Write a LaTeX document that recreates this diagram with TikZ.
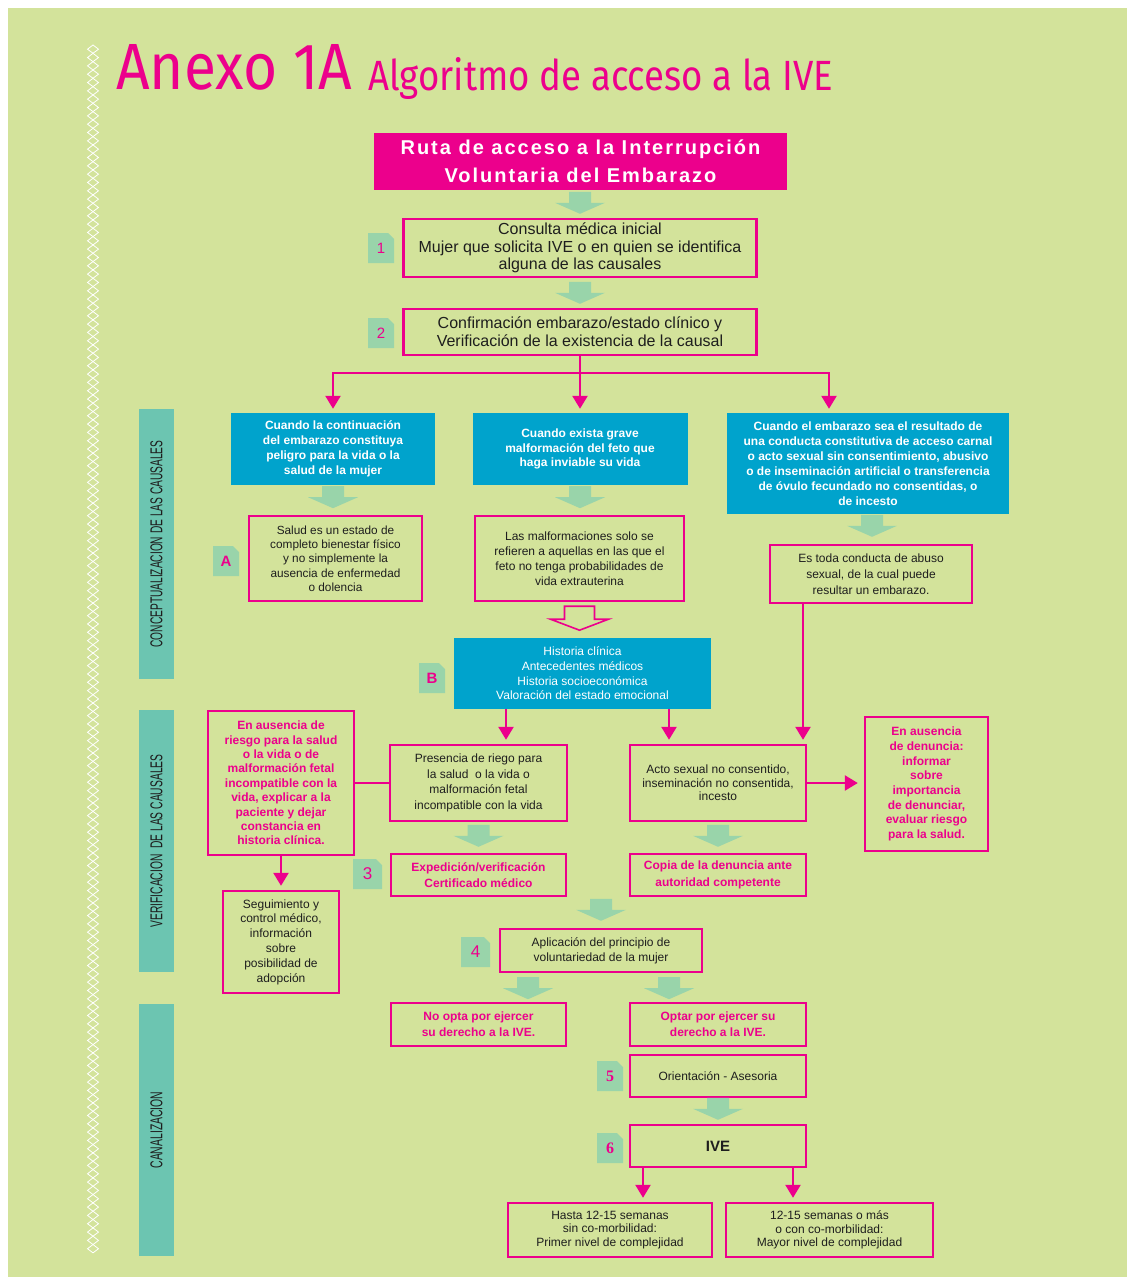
\documentclass[tikz,border=0pt]{standalone}
\usepackage{fontspec}
\setmainfont{Liberation Sans}
\newfontfamily\titlefont{Fira Sans}
\newfontfamily\hdrfont[LetterSpace=10]{Liberation Sans}
\newfontfamily\numserif{Liberation Serif}
\usetikzlibrary{arrows.meta,calc}

\definecolor{bgg}{HTML}{D3E39B}
\definecolor{pnk}{HTML}{EC008C}
\definecolor{tealbar}{HTML}{6CC5B1}
\definecolor{cyanbox}{HTML}{00A3CC}
\definecolor{mint}{HTML}{99D4AA}
\definecolor{ink}{HTML}{1E1E1E}

\newcommand\fsz[2]{\fontsize{#1}{#2}\selectfont}
% numbered badge with a folded top-right corner: name, left, top, width, label
\newcommand\stepbadge[5]{%
  \fill[mint] (#2,#3) -- ({#2+#4-6},#3) -- ({#2+#4},{#3+6}) -- ({#2+#4},{#3+30}) -- (#2,{#3+30}) -- cycle;
  \node[text=pnk, inner sep=0pt] (#1) at ({#2+#4/2},{#3+15}) {#5};}

\tikzset{
  pbox/.style={draw=pnk, line width=2.4pt, inner sep=0pt, align=center, text=ink},
  pinktext/.style={text=pnk, font=\bfseries\fsz{12}{14.5}},
  bbox/.style={fill=cyanbox, inner sep=0pt, align=center, text=white, font=\bfseries\fsz{12}{14.8}},
  sidebar/.style={fill=tealbar, inner sep=0pt, minimum width=35pt},
  pa/.style={draw=pnk, line width=2.4pt, -{Triangle[width=15pt,length=13pt]}, shorten >=4pt},
  pline/.style={draw=pnk, line width=2.4pt},
  garrow/.pic={\fill[mint] (-11,-22) -- (11,-22) -- (11,-11) -- (25,-11) -- (0,0) -- (-25,-11) -- (-11,-11) -- cycle;},
  harrow/.pic={\draw[pnk, line width=1.6pt, line join=miter] (-15,-24) -- (15,-24) -- (15,-11) -- (29,-11) -- (0,0) -- (-29,-11) -- (-15,-11) -- cycle;},
}

\begin{document}
\begin{tikzpicture}[x=1pt,y=-1pt]
\useasboundingbox (0,0) rectangle (1127,1277);
\fill[white] (0,0) rectangle (1127,1277);
\fill[bgg] (8,8) rectangle (1127,1277);

% chain of small diamonds along the left edge
\foreach \k in {0,...,144}{
  \draw[white, line width=0.8pt] (93,{45+\k*8.33}) -- (98.5,{49.2+\k*8.33}) -- (93,{53.3+\k*8.33}) -- (87.5,{49.2+\k*8.33}) -- cycle;
}

% title
\node[anchor=south west, inner sep=0pt, text=pnk] (t1) at (116,90) {\resizebox{236pt}{45pt}{\titlefont Anexo 1A}};
\node[anchor=base west, inner sep=0pt, text=pnk] (t2) at (368,90) {\resizebox*{465pt}{42pt}{\titlefont Algoritmo de acceso a la IVE}};

% side bars
\node[sidebar, minimum height=270pt] (s1) at (156.5,544) {};
\node[rotate=90, inner sep=0pt, text=ink] (s1t) at (s1) {\resizebox{207pt}{12pt}{CONCEPTUALIZACION DE LAS CAUSALES}};
\node[sidebar, minimum height=262pt] (s2) at (156.5,841) {};
\node[rotate=90, inner sep=0pt, text=ink] (s2t) at (s2) {\resizebox{173pt}{12pt}{VERIFICACION\ \ DE LAS CAUSALES}};
\node[sidebar, minimum height=252pt] (s3) at (156.5,1130) {};
\node[rotate=90, inner sep=0pt, text=ink] (s3t) at (s3) {\resizebox{77pt}{12pt}{CANALIZACION}};

% header
\node[fill=pnk, minimum width=413pt, minimum height=57pt, inner sep=0pt, align=center, text=white, font=\hdrfont\bfseries\fsz{20}{28}] (hdr) at (580.5,161.5) {Ruta de acceso a la Interrupción\\Voluntaria del Embarazo};

% steps 1 and 2
\node[pbox, minimum width=353pt, minimum height=58pt, font=\fsz{16}{17.5}] (b1) at (580,248) {Consulta médica inicial\\Mujer que solicita IVE o en quien se identifica\\alguna de las causales};
\node[pbox, minimum width=353pt, minimum height=46pt, font=\fsz{16}{18}] (b2) at (580,332) {Confirmación embarazo/estado clínico y\\Verificación de la existencia de la causal};

% the three causes
\node[bbox, minimum width=204pt, minimum height=72pt] (ba) at (333,449) {Cuando la continuación\\del embarazo constituya\\peligro para la vida o la\\salud de la mujer};
\node[bbox, minimum width=215pt, minimum height=72pt] (bb) at (580,449) {Cuando exista grave\\malformación del feto que\\haga inviable su vida};
\node[bbox, minimum width=282pt, minimum height=101pt, font=\bfseries\fsz{12}{15}] (bc) at (868,463.5) {Cuando el embarazo sea el resultado de\\una conducta constitutiva de acceso carnal\\o acto sexual sin consentimiento, abusivo\\o de inseminación artificial o transferencia\\de óvulo fecundado no consentidas, o\\de incesto};

% definitions
\node[pbox, minimum width=173pt, minimum height=85pt, font=\fsz{11.8}{14.3}] (da) at (335.5,558.5) {Salud es un estado de\\completo bienestar físico\\y no simplemente la\\ausencia de enfermedad\\o dolencia};
\node[pbox, minimum width=209pt, minimum height=85pt, font=\fsz{12}{15}] (db) at (579.5,558.5) {Las malformaciones solo se\\refieren a aquellas en las que el\\feto no tenga probabilidades de\\vida extrauterina};
\node[pbox, minimum width=202pt, minimum height=58pt, font=\fsz{12}{16}] (dc) at (871,574) {Es toda conducta de abuso\\sexual, de la cual puede\\resultar un embarazo.};

% clinical history
\node[fill=cyanbox, inner sep=0pt, align=center, text=white, font=\fsz{12}{14.7}, minimum width=257pt, minimum height=71pt] (hist) at (582.5,673.5) {Historia clínica\\Antecedentes médicos\\Historia socioeconómica\\Valoración del estado emocional};

% verification
\node[pbox, pinktext, minimum width=146pt, minimum height=144pt, font=\bfseries\fsz{12}{14.4}] (lp) at (281,783) {En ausencia de\\riesgo para la salud\\o la vida o de\\malformación fetal\\incompatible con la\\vida, explicar a la\\paciente y dejar\\constancia en\\historia clínica.};
\node[pbox, minimum width=177pt, minimum height=76pt, font=\fsz{12}{15.7}] (pres) at (478.5,783) {Presencia de riego para\\la salud~ o la vida o\\malformación fetal\\incompatible con la vida};
\node[pbox, minimum width=176pt, minimum height=76pt, font=\fsz{12}{13.5}] (acto) at (718,783) {Acto sexual no consentido,\\inseminación no consentida,\\incesto};
\node[pbox, pinktext, minimum width=123pt, minimum height=134pt, font=\bfseries\fsz{12}{14.7}] (rp) at (926.5,784) {En ausencia\\de denuncia:\\informar\\sobre\\importancia\\de denunciar,\\evaluar riesgo\\para la salud.};
\node[pbox, minimum width=116pt, minimum height=102pt, font=\fsz{12}{14.8}] (seg) at (281,942) {Seguimiento y\\control médico,\\información\\sobre\\posibilidad de\\adopción};
\node[pbox, pinktext, minimum width=175pt, minimum height=42pt, font=\bfseries\fsz{12}{16.5}] (exp) at (478.5,875) {Expedición/verificación\\Certificado médico};
\node[pbox, pinktext, minimum width=176pt, minimum height=42pt, font=\bfseries\fsz{12}{16.5}] (cop) at (718,875) {Copia de la denuncia ante\\autoridad competente};

% channelling
\node[pbox, minimum width=202pt, minimum height=43pt, font=\fsz{12}{15}] (apl) at (601,950.5) {Aplicación del principio de\\voluntariedad de la mujer};
\node[pbox, pinktext, minimum width=175pt, minimum height=43pt, font=\bfseries\fsz{12}{16}] (nop) at (478.5,1024.5) {No opta por ejercer\\su derecho a la IVE.};
\node[pbox, pinktext, minimum width=176pt, minimum height=43pt, font=\bfseries\fsz{12}{16}] (opt) at (718,1024.5) {Optar por ejercer su\\derecho a la IVE.};
\node[pbox, minimum width=176pt, minimum height=42pt, font=\fsz{12}{14}] (ori) at (718,1076) {Orientación - Asesoria};
\node[pbox, minimum width=176pt, minimum height=42pt, font=\bfseries\fsz{15}{16}] (ive) at (718,1146) {IVE};
\node[pbox, minimum width=204pt, minimum height=54pt, font=\fsz{12}{13.5}] (has) at (610,1230) {Hasta 12-15 semanas\\sin co-morbilidad:\\Primer nivel de complejidad};
\node[pbox, minimum width=207pt, minimum height=54pt, font=\fsz{12}{13.5}] (may) at (829.5,1230) {12-15 semanas o más\\o con co-morbilidad:\\Mayor nivel de complejidad};

% step badges
\stepbadge{n1}{368}{233}{26}{\fsz{15}{15}1}
\stepbadge{n2}{368}{318}{26}{\fsz{15}{15}2}
\stepbadge{nA}{213}{546}{26}{\bfseries\fsz{15}{15}A}
\stepbadge{nB}{419}{663}{26}{\bfseries\fsz{15}{15}B}
\stepbadge{n3}{353}{859}{29}{\fsz{17}{17}3}
\stepbadge{n4}{461}{937}{29}{\fsz{17}{17}4}
\stepbadge{n5}{597}{1061}{26}{\numserif\bfseries\fsz{16}{16}5}
\stepbadge{n6}{597}{1133}{26}{\numserif\bfseries\fsz{16}{16}6}

% broad green arrows
\pic at ($(b1.north)+(0,-4)$) {garrow};
\pic at ($(b2.north)+(0,-4)$) {garrow};
\pic at ($(ba.south)+(0,23)$) {garrow};
\pic at ($(bb.south)+(0,23)$) {garrow};
\pic at ($(dc.north)+(1,-7)$) {garrow};
\pic at ($(db.south)+(0,28)$) {harrow};
\pic at ($(exp.north)+(0,-6)$) {garrow};
\pic at ($(cop.north)+(0,-6)$) {garrow};
\pic at ($(apl.north)+(0,-7)$) {garrow};
\coordinate (xn) at (528,0);
\coordinate (xo) at (669,0);
\pic at ($(apl.south -| xn)+(0,26)$) {garrow};
\pic at ($(apl.south -| xo)+(0,26)$) {garrow};
\pic at ($(ive.north)+(0,-4)$) {garrow};

% pink connectors
\coordinate (split) at ($(b2.south)+(0,17)$);
\coordinate (rt) at (829,0);
\draw[pline] (b2.south) -- (split);
\draw[pa] (split) -| (ba.north);
\draw[pa] (b2.south) -- (bb.north);
\draw[pa] (split) -| (rt |- bc.north);

\coordinate (xr) at (803,0);
\coordinate (xl) at (506,0);
\coordinate (xm) at (669,0);
\draw[pa] (dc.south -| xr) -- (acto.north -| xr);
\draw[pa] (hist.south -| xl) -- (pres.north -| xl);
\draw[pa] (hist.south -| xm) -- (acto.north -| xm);
\draw[pline] (lp.east) -- (pres.west);
\draw[pa] (lp.south) -- (seg.north);
\draw[pa, shorten >=6pt] (acto.east) -- (acto.east -| rp.west);

\coordinate (xh) at (643,0);
\coordinate (xk) at (793,0);
\draw[pa] (ive.south -| xh) -- (has.north -| xh);
\draw[pa] (ive.south -| xk) -- (may.north -| xk);
\end{tikzpicture}
\end{document}
